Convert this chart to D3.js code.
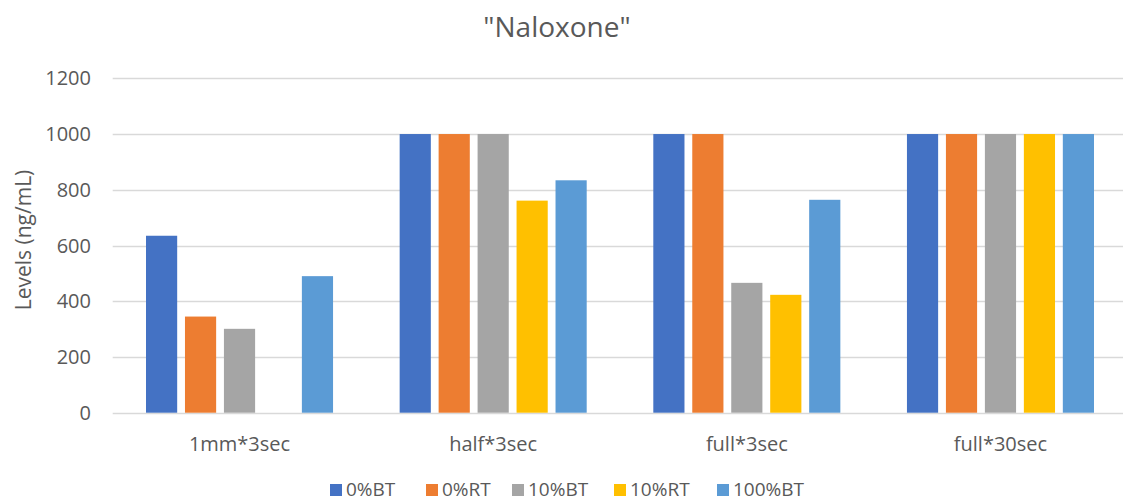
<!DOCTYPE html>
<html>
<head>
<meta charset="utf-8">
<script src="https://cdn.jsdelivr.net/npm/d3@7"></script>
<style>
  body { margin: 0; background: #fff; }
  svg text { font-family: "Open Sans", "Noto Sans", sans-serif; fill: #595959; }
</style>
</head>
<body>
<div id="chart-container"></div>
<script>
const categories = ["1mm*3sec", "half*3sec", "full*3sec", "full*30sec"];
const seriesNames = ["0%BT", "0%RT", "10%BT", "10%RT", "100%BT"];
const seriesColors = ["#4472C4", "#ED7D31", "#A5A5A5", "#FFC000", "#5B9BD5"];
const values0BT = [635, 1000, 1000, 1000];
const values0RT = [345, 1000, 1000, 1000];
const values10BT = [301, 1000, 466, 1000];
const values10RT = [0, 761, 423, 1000];
const values100BT = [490, 834, 764, 1000];
const yTicks = [0, 200, 400, 600, 800, 1000, 1200];

const seriesValues = [values0BT, values0RT, values10BT, values10RT, values100BT];
const data = [];
categories.forEach(function(cat, i) {
    seriesNames.forEach(function(s, j) {
        data.push({ category: cat, series: s, value: seriesValues[j][i] });
    });
});

const svgWidth = 1123;
const svgHeight = 502;
const plotLeft = 112.7, plotRight = 1127.3;
const plotTop = 78.3, plotBottom = 412.7;

const svg = d3.select("#chart-container")
    .append("svg")
    .attr("width", svgWidth)
    .attr("height", svgHeight);

const scaleX = d3.scaleBand()
    .domain(categories)
    .range([plotLeft, plotRight])
    .padding(0);

const bw = scaleX.bandwidth();
const scaleInner = d3.scaleBand()
    .domain(seriesNames)
    .range([bw * 0.1313, bw * 0.8687])
    .paddingInner(0.2)
    .paddingOuter(0);

const scaleY = d3.scaleLinear()
    .domain([0, 1200])
    .range([plotBottom, plotTop]);

const color = d3.scaleOrdinal().domain(seriesNames).range(seriesColors);

// gridlines
svg.append("g")
    .selectAll("line")
    .data(yTicks)
    .enter()
    .append("line")
    .attr("x1", plotLeft)
    .attr("x2", svgWidth)
    .attr("y1", d => Math.round(scaleY(d)) + 0.5)
    .attr("y2", d => Math.round(scaleY(d)) + 0.5)
    .attr("stroke", "#d9d9d9")
    .attr("stroke-width", 1.3);

// y tick labels
svg.append("g")
    .selectAll("text")
    .data(yTicks)
    .enter()
    .append("text")
    .attr("x", 91)
    .attr("y", d => scaleY(d))
    .attr("dy", "0.35em")
    .attr("text-anchor", "end")
    .attr("font-size", "20px")
    .text(d => d);

// bars
svg.append("g")
    .selectAll("rect")
    .data(data)
    .enter()
    .append("rect")
    .attr("x", d => scaleX(d.category) + scaleInner(d.series))
    .attr("y", d => scaleY(d.value))
    .attr("width", scaleInner.bandwidth())
    .attr("height", d => scaleY(0) - scaleY(d.value))
    .attr("fill", d => color(d.series));

// x labels
svg.append("g")
    .selectAll("text")
    .data(categories)
    .enter()
    .append("text")
    .attr("x", d => scaleX(d) + bw / 2)
    .attr("y", 451)
    .attr("text-anchor", "middle")
    .attr("font-size", "20px")
    .text(d => d);

// y axis title
svg.append("text")
    .attr("transform", "rotate(-90)")
    .attr("x", -240)
    .attr("y", 31)
    .attr("text-anchor", "middle")
    .attr("font-size", "21px")
    .text("Levels (ng/mL)");

// title
svg.append("text")
    .attr("x", 557)
    .attr("y", 37)
    .attr("text-anchor", "middle")
    .attr("font-size", "28px")
    .text("\"Naloxone\"");

// legend
const legendX = [330, 426, 512, 614, 717];
const legend = svg.append("g")
    .selectAll("g")
    .data(seriesNames)
    .enter()
    .append("g")
    .attr("transform", (d, i) => `translate(${legendX[i]},0)`);

legend.append("rect")
    .attr("x", 0)
    .attr("y", 484)
    .attr("width", 12)
    .attr("height", 12)
    .attr("fill", d => color(d));

legend.append("text")
    .attr("x", 16)
    .attr("y", 496)
    .attr("font-size", "19px")
    .text(d => d);
</script>
</body>
</html>
